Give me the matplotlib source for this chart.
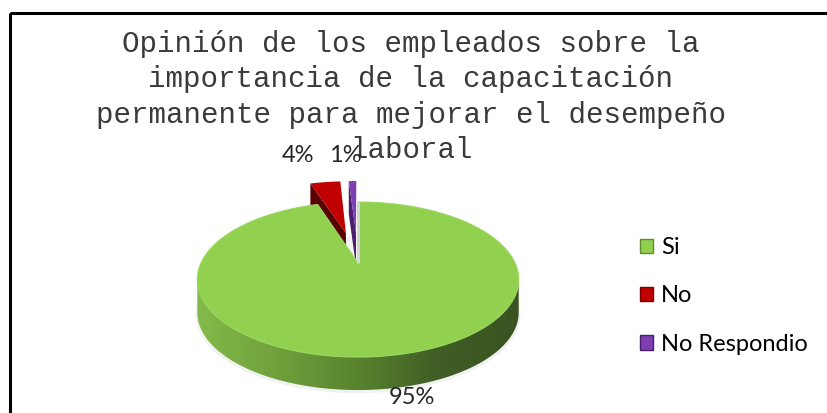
import numpy as np
import matplotlib
matplotlib.use("Agg")
import matplotlib.pyplot as plt
from matplotlib.patches import Polygon, Rectangle, Patch
from matplotlib.colors import LinearSegmentedColormap

# ---------------- data ----------------
title = ("Opinión de los empleados sobre la\n"
         "importancia de la capacitación\n"
         "permanente para mejorar el desempeño\n"
         "laboral")
categories = ["Si", "No", "No Respondio"]
values = [95, 4, 1]
pct_labels = ["95%", "4%", "1%"]

# ---------------- style ----------------
explode = [0.0, 0.45, 0.45]
top_colors = ["#92D050", "#C00000", "#7E3FB2"]
face_colors = ["#D4D4D4", "#5A0000", "#4A1F70"]
legend_edges = ["#5E8F2E", "#7A0000", "#4A1F70"]
side_cmap = LinearSegmentedColormap.from_list(
    "side", ["#84BA4B", "#70A03C", "#58832E", "#405D25", "#3A5321"])
label_font = "Lato"
W, H = 827, 413
cx, cy = 358.0, 263.0        # pie centre (pixels)
Rx, Ry, k = 157.0, 74.0, 0.213  # radii and perspective factor
depth = 33.0
label_pos = [(412, 398), (298, 155), (345, 155)]

fig = plt.figure(figsize=(W / 100, H / 100), dpi=100)
ax = fig.add_axes([0, 0, 1, 1])
ax.set_xlim(0, W)
ax.set_ylim(H, 0)
ax.axis("off")


def proj(u, v, drop=0.0):
    u = np.asarray(u, float)
    v = np.asarray(v, float)
    den = 1.0 + k * v
    return cx + Rx * u / den, cy - Ry * v / den + drop


total = float(sum(values))
slices = []
start = 90.0
for i, val in enumerate(values):
    b = start
    a = start - 360.0 * val / total
    start = a
    m = np.radians((a + b) / 2)
    ox, oy = explode[i] * np.cos(m), explode[i] * np.sin(m)
    slices.append((i, a, b, ox, oy))


def top_poly(a, b, ox, oy, drop=0.0):
    t = np.radians(np.linspace(b, a, 300))
    u = np.concatenate([[ox], ox + np.cos(t)])
    v = np.concatenate([[oy], oy + np.sin(t)])
    X, Y = proj(u, v, drop)
    return np.column_stack([X, Y])


def radial_face(ang, ox, oy):
    r = np.radians(ang)
    u = np.array([ox, ox + np.cos(r), ox + np.cos(r), ox])
    v = np.array([oy, oy + np.sin(r), oy + np.sin(r), oy])
    d = np.array([0, 0, depth, depth])
    X, Y = proj(u, v, d)
    return np.column_stack([X, Y])


# draw exploded (back) slices first, then the big one
order = sorted(slices, key=lambda s: -explode[s[0]])
for (i, a, b, ox, oy) in order:
    if i == 0:
        # soft shadow under the pie
        t = np.radians(np.linspace(0, 360, 400))
        Xs, Ys = proj(1.01 * np.cos(t), 1.01 * np.sin(t), depth + 2)
        ax.add_patch(Polygon(np.column_stack([Xs, Ys]), closed=True,
                             facecolor="#F1F1F1", edgecolor="none",
                             zorder=0.2))
        # curved front wall with gradient
        ts = np.degrees(np.arcsin(k))
        t = np.radians(np.linspace(180 + ts, 360 - ts, 400))
        ut, vt = np.cos(t), np.sin(t)
        Xt, Yt = proj(ut, vt)
        Xb, Yb = proj(ut, vt, depth)
        wall = np.column_stack([np.concatenate([Xt, Xb[::-1]]),
                                np.concatenate([Yt, Yb[::-1]])])
        wp = Polygon(wall, closed=True, facecolor="none", edgecolor="none")
        ax.add_patch(wp)
        grad = np.linspace(0, 1, 256).reshape(1, -1)
        im = ax.imshow(grad, cmap=side_cmap, aspect="auto",
                       extent=(wall[:, 0].min(), wall[:, 0].max(),
                               wall[:, 1].max(), wall[:, 1].min()),
                       zorder=1)
        im.set_clip_path(wp)
        # top
        ax.add_patch(Polygon(top_poly(a, b, ox, oy), closed=True,
                             facecolor=top_colors[i], edgecolor="#9AD85E",
                             lw=0.8, zorder=2))
        # cut edge at the notch
        r = np.radians(b)
        X, Y = proj([ox, ox + np.cos(r)], [oy, oy + np.sin(r)])
        ax.plot(X, Y, color=face_colors[i], lw=2.2, zorder=3,
                solid_capstyle="butt")
    else:
        if np.cos(np.radians(b)) < -1e-9:
            ax.add_patch(Polygon(radial_face(b, ox, oy), closed=True,
                                 facecolor=face_colors[i], edgecolor="none",
                                 zorder=0.5))
        if np.cos(np.radians(a)) > 1e-9:
            ax.add_patch(Polygon(radial_face(a, ox, oy), closed=True,
                                 facecolor=face_colors[i], edgecolor="none",
                                 zorder=0.5))
        ax.add_patch(Polygon(top_poly(a, b, ox, oy), closed=True,
                             facecolor=top_colors[i], edgecolor="none",
                             zorder=0.6))

# percentage labels
for (x, y), txt in zip(label_pos, pct_labels):
    ax.text(x, y, txt, ha="center", va="center", fontsize=17,
            family=label_font, color="#262626", zorder=5)

# title
ax.text(411, 30, title, ha="center", va="top", multialignment="center",
        family="Liberation Mono", fontsize=21, color="#3A3A3A",
        linespacing=1.33, zorder=4)

# legend
handles = [Patch(facecolor=c, edgecolor=e, lw=1.0)
           for c, e in zip(top_colors, legend_edges)]
ax.legend(handles, categories, loc="upper left",
          bbox_to_anchor=(640 / W, 1 - 237 / H), frameon=False,
          prop={"family": label_font, "size": 17},
          handlelength=0.55, handleheight=0.55, handletextpad=0.35,
          labelspacing=1.16, borderpad=0, borderaxespad=0)

# chart frame
ax.add_patch(Rectangle((9.5, 12.5), W + 20, H + 20, fill=False,
                       edgecolor="black", lw=2.2, zorder=10,
                       clip_on=True))

fig.savefig("out.png", dpi=100)
